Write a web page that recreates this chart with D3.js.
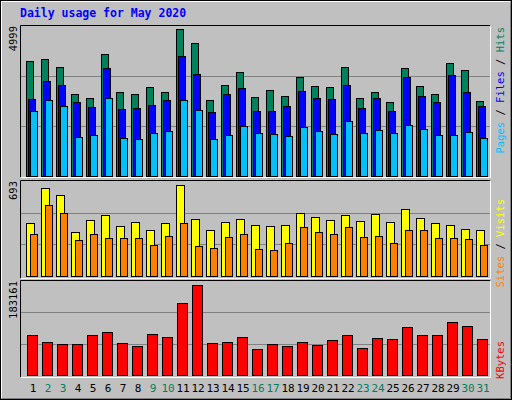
<!DOCTYPE html><html><head><meta charset="utf-8">
<script src="https://cdn.jsdelivr.net/npm/d3@7"></script>
<style>body{margin:0;background:#fff}</style></head><body>
<svg id="c" width="512" height="400"></svg>
<script>
const days=d3.range(1,32);
const weekend=[2,3,9,10,16,17,23,24,30,31];
const hits=[3827,3893,3628,2732,2599,4059,2798,2732,2964,2798,4889,4424,2533,3030,3462,2632,2865,2665,3296,2997,2964,3628,2599,2798,2466,3594,2997,2732,3760,3528,2500];
const files=[2566,3163,3030,2466,2300,3594,2234,2267,2367,2533,3993,3395,2135,2732,2931,2168,2168,2334,2831,2599,2566,3030,2267,2599,2168,3296,2665,2466,3362,2798,2334];
const pages=[2168,2533,2334,1305,1371,2599,1272,1239,1438,1504,2533,2201,1239,1371,1670,1438,1405,1338,1637,1504,1405,1836,1438,1537,1438,1703,1570,1371,1371,1471,1272];
const visits=[390,642,592,318,411,448,368,397,332,390,664,419,332,397,419,375,368,375,462,433,411,448,404,455,397,491,426,383,375,346,332];
const sites=[310,520,462,260,303,274,274,274,224,289,390,217,202,282,303,195,188,238,361,318,303,354,282,289,238,339,339,274,274,267,224];
const kbytes=[77488,64040,60198,60198,77488,83252,62119,56355,79410,73646,140888,175470,62119,64040,73646,50592,60198,56355,64040,58276,67882,77488,52513,71725,69804,92858,77488,77488,102464,94779,69804];
const maxHits=4999,maxVisits=693,maxKB=183161;

const svg=d3.select("#c");
const F="DejaVu Sans Mono, monospace";
svg.append("rect").attr("width",512).attr("height",400).attr("fill","#c0c0c0");
svg.append("rect").attr("x",0.5).attr("y",0.5).attr("width",511).attr("height",399).attr("fill","none").attr("stroke","#000");
svg.append("path").attr("d","M1.5,398.5V1.5H510.5").attr("fill","none").attr("stroke","#fff");
svg.append("path").attr("d","M1.5,398.5H510.5V1.5").attr("fill","none").attr("stroke","#808080");
svg.append("text").attr("x",20).attr("y",17).attr("font-family",F).attr("font-weight","bold").attr("font-size",11.5).attr("fill","#0000ff").text("Daily usage for May 2020");

const x=d3.scaleBand().domain(days).range([21.5,486.5]);
const X=d=>x(d)+4;

function panel(y0,y1){
  svg.append("rect").attr("x",20.5).attr("y",y0+0.5).attr("width",470).attr("height",y1-y0).attr("fill","#c0c0c0");
  svg.append("path").attr("d",`M20.5,${y1+0.5}V${y0+0.5}H490.5`).attr("fill","none").attr("stroke","#000");
  svg.append("path").attr("d",`M20.5,${y1+0.5}H490.5V${y0+0.5}`).attr("fill","none").attr("stroke","#fff");
}
function grid(y){[1/3,2/3].forEach(f=>{const v=y.domain()[1]*f;svg.append("line").attr("x1",21).attr("x2",490).attr("y1",Math.round(y(v))+0.5).attr("y2",Math.round(y(v))+0.5).attr("stroke","#808080");});}
function bars(data,y,dx,w,color){
  svg.append("g").selectAll("rect").data(data).join("rect")
   .attr("x",(d,i)=>Math.round(X(days[i])+dx)+0.5).attr("y",d=>Math.round(y(d))+0.5)
   .attr("width",w).attr("height",d=>y(0)-Math.round(y(d))).attr("fill",color).attr("stroke","#000");
}
function leftLabel(t,y){svg.append("text").attr("transform",`translate(17,${y}) rotate(-90)`).attr("font-family",F).attr("font-size",10.5).attr("text-anchor","end").attr("fill","#000").text(t);}
function rightLabel(parts,y){
  const t=svg.append("text").attr("transform",`translate(504,${y}) rotate(-90)`).attr("font-family",F).attr("font-size",10.5).attr("text-anchor","end");
  parts.forEach(p=>t.append("tspan").attr("fill",p[1]).text(p[0]));
}

// top
panel(25,177);
const y1=d3.scaleLinear().domain([0,maxHits]).range([176,26]);
grid(y1);
bars(hits,y1,0,7,"#00805c");
bars(files,y1,2,7,"#0000ff");
bars(pages,y1,4,7,"#00c0ff");
leftLabel("4999",26);
rightLabel([["Pages","#00c0ff"],[" / ","#000"],["Files","#0000ff"],[" / ","#000"],["Hits","#00805c"]],27);

// middle
panel(180,278);
const y2=d3.scaleLinear().domain([0,maxVisits]).range([276,181]);
grid(y2);
bars(visits,y2,0,8,"#ffff00");
bars(sites,y2,4,7,"#ff8000");
leftLabel("693",181);
rightLabel([["Sites","#ff8000"],[" / ","#000"],["Visits","#ffff00"]],199);

// bottom
panel(280,377);
const y3=d3.scaleLinear().domain([0,maxKB]).range([375,281]);
grid(y3);
bars(kbytes,y3,1,10,"#ff0000");
leftLabel("183161",281);
rightLabel([["KBytes","#ff0000"]],341);

svg.append("g").selectAll("text").data(days).join("text")
 .attr("x",d=>X(d)+7.5).attr("y",392).attr("text-anchor","middle").attr("font-family",F).attr("font-size",11)
 .attr("fill",d=>weekend.includes(d)?"#00805c":"#000").text(d=>d);
</script></body></html>
